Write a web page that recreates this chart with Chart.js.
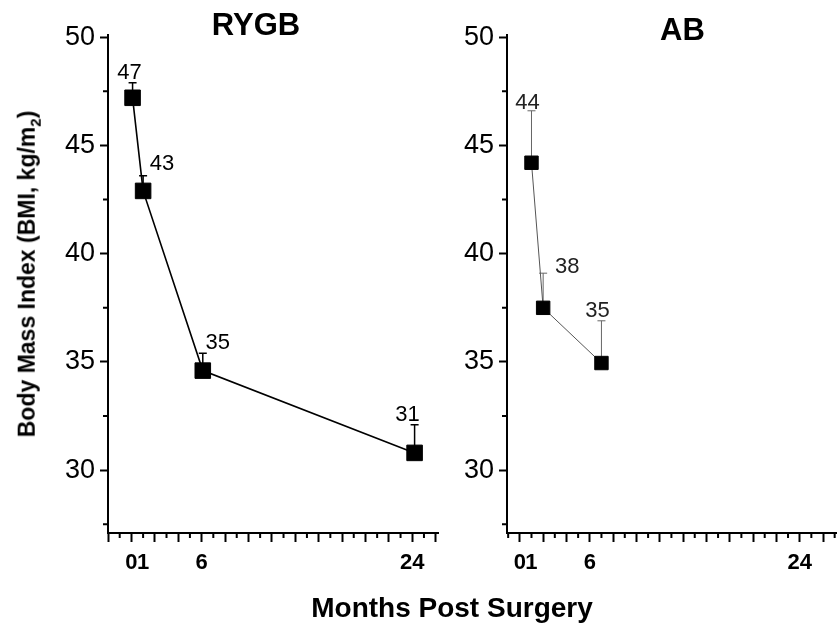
<!DOCTYPE html>
<html>
<head>
<meta charset="utf-8">
<script src="https://cdn.jsdelivr.net/npm/chart.js@4"></script>
<style>
body { margin: 0; background: #fff; width: 837px; height: 631px; overflow: hidden; position: relative; font-family: "Liberation Sans", Arial, sans-serif; }
canvas { position: absolute; top: 0; }
.txt { position: absolute; font-weight: bold; color: #000; white-space: nowrap; }
</style>
</head>
<body>
<canvas id="rygb" width="450" height="631" style="left:0"></canvas>
<canvas id="ab" width="387" height="631" style="left:450px"></canvas>
<div class="txt" style="left:256px; top:9px; font-size:31px; line-height:31px; transform:translateX(-50%)">RYGB</div>
<div class="txt" style="left:660px; top:14px; font-size:31px; line-height:31px">AB</div>
<div class="txt" style="left:452px; top:594px; font-size:28px; line-height:28px; transform:translateX(-50%)">Months Post Surgery</div>
<div class="txt" style="left:31px; top:274px; font-size:23px; line-height:23px; transform:translate(-50%,-50%) rotate(-90deg)">Body Mass Index (BMI, kg/m<sub style="font-size:65%">2</sub>)</div>
<script>
// RYGB panel
const rygbMonths = [0.1, 1, 6.1, 24.2];
const rygbBmi = [47.2, 42.9, 34.6, 30.8];
const rygbUpper = [47.9, 43.6, 35.4, 32.1];
const rygbLabels = ['47', '43', '35', '31'];

// AB panel
const abMonths = [1, 2, 7];
const abBmi = [44.2, 37.5, 34.95];
const abUpper = [46.6, 39.1, 36.9];
const abLabels = ['44', '38', '35'];

// axis ticks
const monthTickLabels = [0, 1, 6, 24];
const bmiTickLabels = [30, 35, 40, 45, 50];
const bmiMinorTicks = [27.5, 32.5, 37.5, 42.5, 47.5];

// label offsets from point (px)
const rygbLabelOffsets = [[-3, -25], [19, -27], [15, -28], [-7, -38]];
const abLabelOffsets = [[-4, -60], [24, -41], [-4, -52]];

function makePanel(id, months, bmi, upper, labels, offsets, cfg) {
    const ctx = document.getElementById(id).getContext('2d');

    const extras = {
        id: 'extras',
        beforeDatasetsDraw(chart) {
            const c = chart.ctx;
            const ys = chart.scales.y;
            const meta = chart.getDatasetMeta(0);
            c.save();
            c.strokeStyle = cfg.errColor;
            c.lineWidth = cfg.errWidth;
            meta.data.forEach((pt, i) => {
                const top = ys.getPixelForValue(upper[i]);
                c.beginPath();
                c.moveTo(pt.x, pt.y);
                c.lineTo(pt.x, top);
                c.moveTo(pt.x - 4, top);
                c.lineTo(pt.x + 4, top);
                c.stroke();
            });
            c.restore();
        },
        afterDatasetsDraw(chart) {
            const c = chart.ctx;
            const meta = chart.getDatasetMeta(0);
            c.save();
            c.fillStyle = cfg.labelColor;
            c.font = '22px "Liberation Sans", Arial, sans-serif';
            c.textAlign = 'center';
            c.textBaseline = 'middle';
            meta.data.forEach((pt, i) => {
                c.fillText(labels[i], pt.x + offsets[i][0], pt.y + offsets[i][1]);
            });
            c.restore();
        },
        afterDraw(chart) {
            // short minor ticks
            const c = chart.ctx;
            const xs = chart.scales.x;
            const ys = chart.scales.y;
            const area = chart.chartArea;
            c.save();
            c.strokeStyle = '#000';
            c.lineWidth = 2;
            c.beginPath();
            for (let v = Math.ceil(xs.min); v <= xs.max; v++) {
                if (Math.abs(v % 2) === 1) {
                    const px = xs.getPixelForValue(v);
                    c.moveTo(px, area.bottom);
                    c.lineTo(px, area.bottom + 5);
                }
            }
            bmiMinorTicks.forEach(v => {
                const py = ys.getPixelForValue(v);
                c.moveTo(area.left, py);
                c.lineTo(area.left - 5, py);
            });
            c.stroke();
            c.restore();
        }
    };

    return new Chart(ctx, {
        type: 'scatter',
        data: {
            datasets: [{
                data: months.map((m, i) => ({ x: m, y: bmi[i] })),
                showLine: true,
                borderColor: cfg.lineColor,
                borderWidth: cfg.lineWidth,
                backgroundColor: '#000',
                pointStyle: 'rect',
                pointRadius: cfg.pointRadius,
                pointBorderColor: '#000',
                pointBorderWidth: 1,
                pointHoverRadius: cfg.pointRadius,
                clip: false
            }]
        },
        options: {
            responsive: false,
            animation: false,
            layout: { autoPadding: false, padding: { top: 35, right: cfg.padRight, left: 0, bottom: 0 } },
            plugins: { legend: { display: false }, tooltip: { enabled: false } },
            scales: {
                x: {
                    type: 'linear',
                    min: cfg.xMin,
                    max: cfg.xMax,
                    afterFit(scale) {
                        scale.height = 98;
                        scale.paddingLeft = 0;
                        scale.paddingRight = 0;
                    },
                    afterBuildTicks(scale) {
                        const t = [];
                        for (let v = Math.ceil(cfg.xMin); v <= cfg.xMax; v++) t.push({ value: v });
                        scale.ticks = t;
                    },
                    border: { display: true, color: '#000', width: 2 },
                    grid: {
                        drawOnChartArea: false,
                        tickLength: 9,
                        tickWidth: 2,
                        tickColor: c => (c.tick && c.tick.value % 2 === 0) ? '#000' : 'rgba(0,0,0,0)'
                    },
                    ticks: {
                        autoSkip: false,
                        maxRotation: 0,
                        padding: 8,
                        color: '#000',
                        font: { family: '"Liberation Sans", Arial, sans-serif', size: 22, weight: 'bold' },
                        callback: v => monthTickLabels.includes(v) ? String(v) : ''
                    }
                },
                y: {
                    min: 27.1,
                    max: 50.1,
                    afterFit(scale) { scale.width = cfg.yWidth; },
                    afterBuildTicks(scale) {
                        scale.ticks = bmiTickLabels.map(v => ({ value: v }));
                    },
                    border: { display: true, color: '#000', width: 2 },
                    grid: {
                        drawOnChartArea: false,
                        tickLength: 8,
                        tickWidth: 2,
                        tickColor: '#000'
                    },
                    ticks: {
                        padding: 5,
                        color: '#000',
                        font: { family: '"Liberation Sans", Arial, sans-serif', size: 27 },
                        callback: v => String(v)
                    }
                }
            }
        },
        plugins: [extras]
    });
}

makePanel('rygb', rygbMonths, rygbBmi, rygbUpper, rygbLabels, rygbLabelOffsets, {
    xMin: -2, xMax: 26.2, yWidth: 108, padRight: 12,
    lineColor: '#000', lineWidth: 1.6, errColor: '#000', errWidth: 1.5,
    labelColor: '#000', pointRadius: 11
});

makePanel('ab', abMonths, abBmi, abUpper, abLabels, abLabelOffsets, {
    xMin: -1.1, xMax: 27.2, yWidth: 57, padRight: 0,
    lineColor: '#555', lineWidth: 1, errColor: '#666', errWidth: 1,
    labelColor: '#222', pointRadius: 9.5
});
</script>
</body>
</html>
